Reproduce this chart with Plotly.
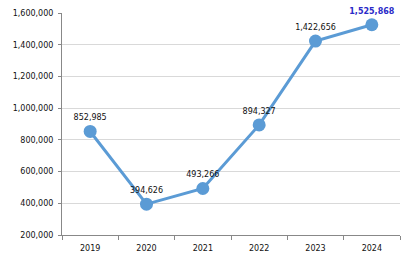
import plotly.graph_objects as go

years = ["2019", "2020", "2021", "2022", "2023", "2024"]
values = [852985, 394626, 493266, 894327, 1422656, 1525868]
labels = ["852,985", "394,626", "493,266", "894,327", "1,422,656", "<b>1,525,868</b>"]
label_colors = ["#111111"] * 5 + ["#2a2ac8"]
y_ticks = [200000, 400000, 600000, 800000, 1000000, 1200000, 1400000, 1600000]

fig = go.Figure()
fig.add_trace(go.Scatter(
    x=years, y=values, mode="lines+markers+text",
    line=dict(color="#5b9bd5", width=3),
    marker=dict(color="#5b9bd5", size=13),
    text=labels, textposition="top center",
    textfont=dict(family="DejaVu Sans", size=8, color=label_colors),
    cliponaxis=False, hoverinfo="skip",
))
fig.update_layout(
    width=410, height=255,
    margin=dict(l=62, r=10, t=13, b=20),
    paper_bgcolor="white", plot_bgcolor="white",
    showlegend=False,
    font=dict(family="DejaVu Sans", size=8, color="#111111"),
)
fig.update_xaxes(
    type="category", tickson="boundaries", ticks="outside", ticklen=4,
    tickcolor="#888888", showline=True, linecolor="#888888", linewidth=1,
    showgrid=False, range=[-0.5, 5.5], tickfont=dict(size=8),
    ticklabelstandoff=5, automargin=False,
)
fig.update_yaxes(
    range=[200000, 1600000], tickvals=y_ticks,
    ticktext=[f"{v:,}" for v in y_ticks],
    ticks="outside", ticklen=3, tickcolor="#888888",
    showline=True, linecolor="#888888", linewidth=1,
    showgrid=True, gridcolor="#d9d9d9", gridwidth=1, zeroline=False,
    tickfont=dict(size=8), ticklabelstandoff=3, automargin=False,
)
fig.write_html("out.html")
